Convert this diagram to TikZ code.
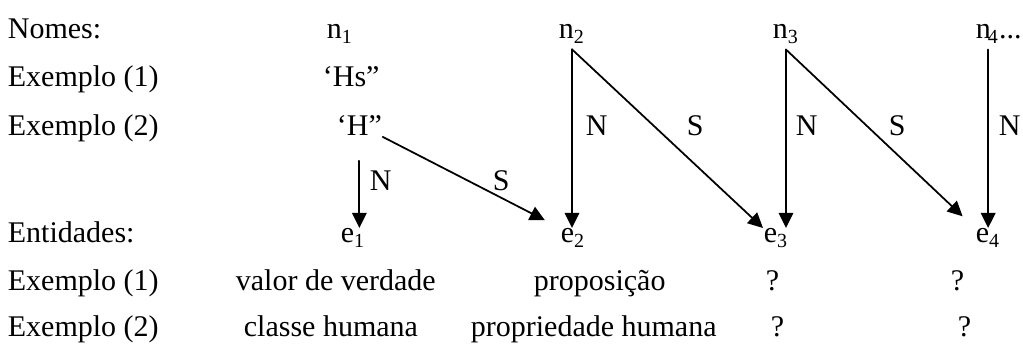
\documentclass[tikz,border=0pt]{standalone}
\usepackage{fontspec}
\setmainfont{Liberation Serif}
\usetikzlibrary{arrows.meta}
\begin{document}
\begin{tikzpicture}[x=0.4pt,y=-0.4pt,line cap=round,line join=round,line width=0.7pt,>={Triangle[length=6pt,width=5.8pt]},font=\fontsize{12}{14}\selectfont,every node/.style={inner sep=0pt,anchor=base west}]
\useasboundingbox (0,0) rectangle (1023,358);
% row labels
\foreach \y/\t [count=\i] in {39/Nomes:,87/Exemplo (1),136/Exemplo (2),243/Entidades:,291/Exemplo (1),337/Exemplo (2)}
	\node (r\i) at (7,\y) {\t};
% names
\node (n1) at (326,39) {n\textsubscript{1}};
\node (n2) at (558,39) {n\textsubscript{2}};
\node (n3) at (772,39) {n\textsubscript{3}};
\node (n4) at (975,39) {n\kern-1.2pt\textsubscript{4}...};
\node (h1) at (322,87) {`Hs''};
\node (h2) at (336,136) {`H''};
% entities
\node (e1) at (340,243) {e\textsubscript{1}};
\node (e2) at (560,243) {e\textsubscript{2}};
\node (e3) at (763,243) {e\textsubscript{3}};
\node (e4) at (975,243) {e\textsubscript{4}};
% arrow labels
\node (ln1) at (369,191) {N};
\node (ls1) at (492,191) {S};
\node (ln2) at (585,136) {N};
\node (ls2) at (686,136) {S};
\node (ln3) at (795,136) {N};
\node (ls3) at (888,136) {S};
\node (ln4) at (998,136) {N};
% values
\node (v1) at (235,291) {valor de verdade};
\node (v2) at (533,291) {proposição};
\node (v3) at (765,291) {?};
\node (v4) at (950,291) {?};
\node (w1) at (243,337) {classe humana};
\node (w2) at (470,337) {propriedade humana};
\node (w3) at (770,337) {?};
\node (w4) at (957,337) {?};
% arrows
\path ([yshift=-2pt]n2.south) coordinate (t2)
	([yshift=-2pt]n3.south) coordinate (t3)
	(e4.north |- t3) coordinate (t4);
\draw[->] ([yshift=-9.6pt]h2.south) -- (h2.south |- e1.north);
\draw[->,shorten >=6.8pt] (h2.south east) -- (e2.north west);
\draw[->] (t2) -- (t2 |- e2.north);
\draw[->] (t2) -- (e3.north west);
\draw[->] (t3) -- (t3 |- e3.north);
\draw[->,shorten >=6.8pt] (t3) -- (e4.north west);
\draw[->] (t4) -- (e4.north);
\end{tikzpicture}
\end{document}
